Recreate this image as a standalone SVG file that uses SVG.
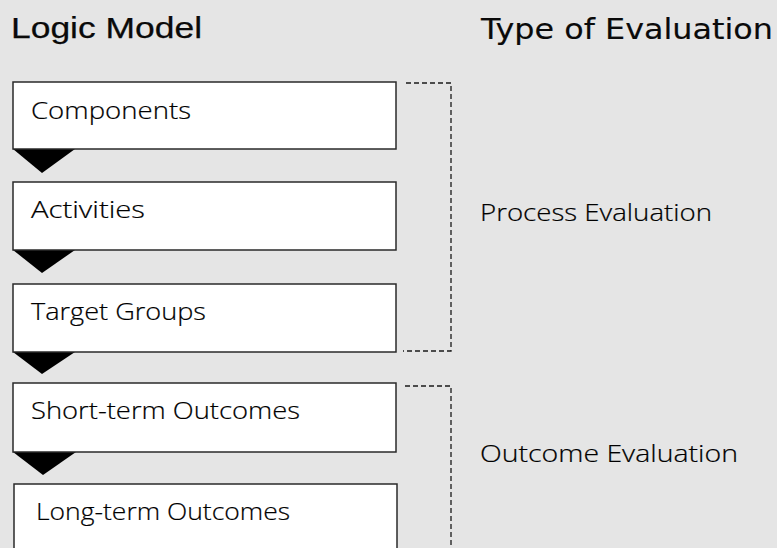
<svg xmlns="http://www.w3.org/2000/svg" width="777" height="548" viewBox="0 0 777 548">
  <style>
    .bg { fill: #e5e5e5; }
    .box { fill: #ffffff; stroke: #2a2a2a; stroke-width: 1.5; }
    .arrow { fill: #000000; }
    .bracket { fill: none; stroke: #1a1a1a; stroke-width: 1.3; stroke-dasharray: 5 3; }
    .title { font-family: "Liberation Sans", Arial, sans-serif; font-size: 29px; fill: #0a0a0a; stroke: #0a0a0a; stroke-width: 0.25; }
    .title2 { font-family: "DejaVu Sans", Verdana, sans-serif; font-size: 28px; fill: #0a0a0a; stroke: #0a0a0a; stroke-width: 0.15; }
    .label { font-family: "Open Sans", "Liberation Sans", sans-serif; font-weight: 300; font-size: 24px; fill: #000; stroke: #000; stroke-width: 0.2; }
  </style>

  <rect class="bg" x="0" y="0" width="777" height="548"/>

  <text class="title" x="11" y="38" textLength="191" lengthAdjust="spacingAndGlyphs">Logic Model</text>
  <text class="title2" x="481" y="39" textLength="292" lengthAdjust="spacingAndGlyphs">Type of Evaluation</text>

  <!-- flow arrows between the stages, and the dashed brackets grouping them -->
  <g id="connectors">
    <polygon class="arrow" points="13,149 75,149 42,173"/>
    <polygon class="arrow" points="13,250 75,250 42,273"/>
    <polygon class="arrow" points="13,352 75,352 42,374"/>
    <polygon class="arrow" points="13,452 76,452 43,475"/>
    <path class="bracket" d="M406,83 H451 V351 H403"/>
    <path class="bracket" d="M405,386 H451 V548"/>
  </g>

  <g id="components">
    <rect class="box" x="13" y="82" width="383" height="67"/>
    <text class="label" x="31" y="119" textLength="160" lengthAdjust="spacingAndGlyphs">Components</text>
  </g>
  <g id="activities">
    <rect class="box" x="13" y="182" width="383" height="68"/>
    <text class="label" x="31" y="218" textLength="114" lengthAdjust="spacingAndGlyphs">Activities</text>
  </g>
  <g id="target-groups">
    <rect class="box" x="13" y="284" width="383" height="68"/>
    <text class="label" x="31" y="320" textLength="175" lengthAdjust="spacingAndGlyphs">Target Groups</text>
  </g>
  <g id="short-term-outcomes">
    <rect class="box" x="13" y="383" width="383" height="69"/>
    <text class="label" x="31" y="419" textLength="269" lengthAdjust="spacingAndGlyphs">Short-term Outcomes</text>
  </g>
  <g id="long-term-outcomes">
    <rect class="box" x="14" y="484" width="383" height="80"/>
    <text class="label" x="36" y="520" textLength="254" lengthAdjust="spacingAndGlyphs">Long-term Outcomes</text>
  </g>

  <g id="process-evaluation">
    <text class="label" x="480" y="221" textLength="232" lengthAdjust="spacingAndGlyphs">Process Evaluation</text>
  </g>
  <g id="outcome-evaluation">
    <text class="label" x="480" y="462" textLength="258" lengthAdjust="spacingAndGlyphs">Outcome Evaluation</text>
  </g>
</svg>
